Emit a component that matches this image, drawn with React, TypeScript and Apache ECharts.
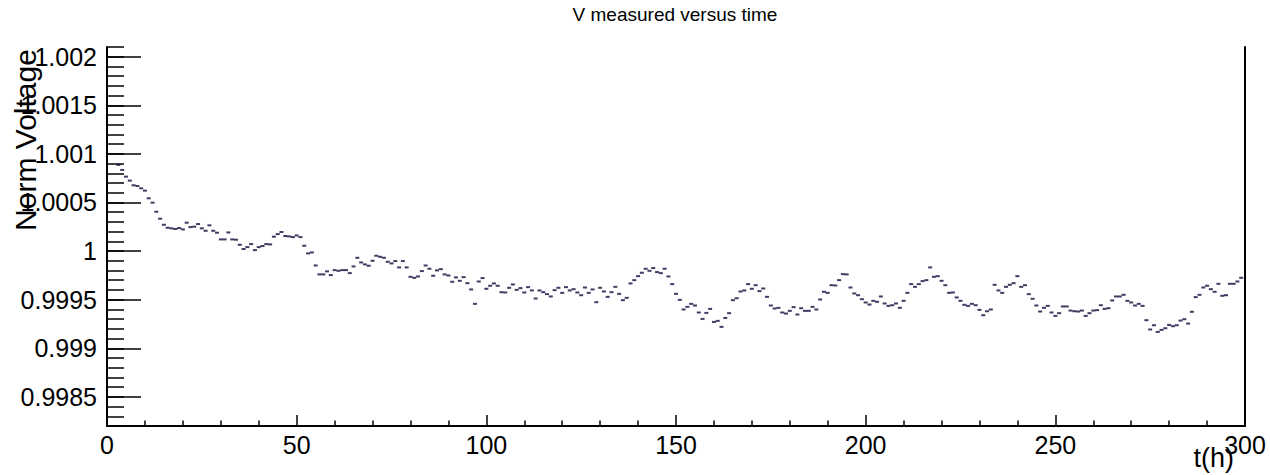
import React, { useEffect, useRef } from "react";
import * as echarts from "echarts";

// ---- data ----
const chartTitle = "V measured versus time";
const xAxisTitle = "t(h)";
const yAxisTitle = "Norm Voltage";

const firstHour = 3; // first measured hour; one point per hour after that
const voltage = [
  1.000887, 1.000835, 1.000766, 1.000725, 1.000677, 1.00067, 1.000646, 1.000622, 1.000543, 1.000498,
  1.000405, 1.000333, 1.000271, 1.00024, 1.000234, 1.000227, 1.000237, 1.000223, 1.000292, 1.000247,
  1.000251, 1.000278, 1.000234, 1.000209, 1.000265, 1.000209, 1.000189, 1.00012, 1.00012, 1.000192,
  1.00012, 1.000117, 1.000065, 1.000021, 1.000041, 1.000072, 1.00001, 1.000041, 1.000052, 1.000072,
  1.000069, 1.000148, 1.000175, 1.000196, 1.000155, 1.000151, 1.000144, 1.000161, 1.000144, 1.000055,
  0.999976, 0.999986, 0.999852, 0.99976, 0.99976, 0.999791, 0.999753, 0.999804, 0.999797, 0.999804,
  0.999804, 0.999773, 0.999842, 0.999931, 0.999883, 0.999863, 0.999849, 0.9999, 0.999952, 0.999941,
  0.999931, 0.99989, 0.999873, 0.999897, 0.999832, 0.999897, 0.999832, 0.999735, 0.999725, 0.999739,
  0.999794, 0.999852, 0.999818, 0.999746, 0.999801, 0.999814, 0.99976, 0.999749, 0.999684, 0.999729,
  0.999694, 0.999732, 0.99967, 0.999605, 0.999457, 0.999687, 0.999722, 0.999612, 0.999643, 0.999667,
  0.999643, 0.999577, 0.999574, 0.999622, 0.999656, 0.999601, 0.999619, 0.999574, 0.999629, 0.999595,
  0.999512, 0.999595, 0.999577, 0.999557, 0.999533, 0.999598, 0.999622, 0.99957, 0.999629, 0.999595,
  0.999608, 0.999574, 0.999546, 0.999625, 0.99957, 0.999605, 0.999474, 0.999622, 0.999584, 0.999529,
  0.999577, 0.999632, 0.99956, 0.999495, 0.999519, 0.999667, 0.999701, 0.999742, 0.999777, 0.999818,
  0.999797, 0.999825, 0.999784, 0.999773, 0.999818, 0.999739, 0.99966, 0.99956, 0.999498, 0.999399,
  0.999426, 0.999457, 0.99944, 0.999368, 0.999302, 0.999364, 0.999405, 0.999271, 0.999282, 0.99922,
  0.999312, 0.999361, 0.999495, 0.999515, 0.999584, 0.999595, 0.99966, 0.999612, 0.999649, 0.999588,
  0.999615, 0.999529, 0.99944, 0.999409, 0.999416, 0.999368, 0.999357, 0.999385, 0.999423, 0.999347,
  0.999412, 0.999385, 0.999385, 0.999426, 0.999399, 0.999502, 0.999581, 0.99957, 0.999649, 0.999646,
  0.999701, 0.999763, 0.99976, 0.999625, 0.999564, 0.999546, 0.999505, 0.999471, 0.99945, 0.999488,
  0.999478, 0.999533, 0.999461, 0.999436, 0.999443, 0.999461, 0.999416, 0.999488, 0.99957, 0.99966,
  0.999632, 0.99966, 0.999691, 0.999701, 0.999832, 0.999735, 0.999742, 0.999694, 0.999649, 0.99957,
  0.999574, 0.999523, 0.999488, 0.999447, 0.999436, 0.999457, 0.999443, 0.999395, 0.99934, 0.999381,
  0.999399, 0.999653, 0.999595, 0.99957, 0.999632, 0.999653, 0.99967, 0.999742, 0.999632, 0.999649,
  0.999557, 0.999509, 0.99944, 0.999378, 0.999416, 0.999436, 0.999368, 0.999333, 0.999361, 0.99943,
  0.99943, 0.999388, 0.999381, 0.999378, 0.999388, 0.999333, 0.999361, 0.999388, 0.999392, 0.999443,
  0.999405, 0.999412, 0.999492, 0.999533, 0.999533, 0.99955, 0.999488, 0.999471, 0.99944, 0.999457,
  0.999436, 0.999289, 0.999193, 0.999237, 0.999168, 0.999189, 0.999206, 0.99924, 0.999227, 0.999237,
  0.999285, 0.999299, 0.999254, 0.999375, 0.999526, 0.99955, 0.999625, 0.999643, 0.999608, 0.999581,
  0.999663, 0.99954, 0.999546, 0.999663, 0.999663, 0.999687, 0.999725,
];

const xMin = 0;
const xMax = 300;
const xMajorStep = 50;
const yMin = 0.9982;
const yMax = 1.0021;
const yMinorStep = 0.0001;
const yMajorTicks = [0.9985, 0.999, 0.9995, 1, 1.0005, 1.001, 1.0015, 1.002];

const FONT = "Liberation Sans, Arial, Helvetica, sans-serif";

export default function App() {
  const ref = useRef<HTMLDivElement>(null);

  useEffect(() => {
    document.body.style.margin = "0";
    if (!ref.current) return;
    const chart = echarts.init(ref.current, null, { renderer: "svg" });

    const points = voltage.map((v, i) => [firstHour + i, v]);

    const option: any = {
      animation: false,
      backgroundColor: "#ffffff",
      grid: { left: 107, right: 25, top: 47, bottom: 49, outerBoundsMode: "none" },
      xAxis: {
        type: "value",
        min: xMin,
        max: xMax,
        interval: xMajorStep,
        axisLine: { show: true, onZero: false, lineStyle: { color: "#000", width: 2 } },
        axisTick: { show: true, inside: true, length: 11, lineStyle: { color: "#000", width: 1.5 } },
        minorTick: { show: true, splitNumber: 5, length: 5.5, lineStyle: { color: "#000", width: 1.5 } },
        axisLabel: { show: true, margin: 6, color: "#000", fontSize: 25, fontFamily: FONT },
        splitLine: { show: false },
      },
      yAxis: [
        {
          // minor ticks every 0.0001
          type: "value",
          position: "left",
          min: yMin,
          max: yMax,
          interval: yMinorStep,
          axisLine: { show: true, onZero: false, lineStyle: { color: "#000", width: 2 } },
          axisTick: { show: true, inside: true, length: 17, lineStyle: { color: "#000", width: 1.5 } },
          axisLabel: { show: false },
          splitLine: { show: false },
        },
        {
          // major ticks and labels
          type: "value",
          position: "left",
          min: yMin,
          max: yMax,
          axisLine: { show: false },
          axisTick: {
            show: true,
            inside: true,
            length: 34,
            customValues: yMajorTicks,
            lineStyle: { color: "#000", width: 1.5 },
          },
          axisLabel: {
            show: true,
            customValues: yMajorTicks,
            margin: 10,
            color: "#000",
            fontSize: 25,
            fontFamily: FONT,
          },
          splitLine: { show: false },
        },
        {
          // right frame line
          type: "value",
          position: "right",
          min: yMin,
          max: yMax,
          axisLine: { show: true, onZero: false, lineStyle: { color: "#000", width: 2 } },
          axisTick: { show: false },
          axisLabel: { show: false },
          splitLine: { show: false },
        },
      ],
      series: [
        {
          type: "scatter",
          xAxisIndex: 0,
          yAxisIndex: 0,
          data: points,
          symbol: "rect",
          symbolSize: [4, 2],
          itemStyle: { color: "#0c0c3c" },
          silent: true,
        },
      ],
      graphic: [
        {
          type: "text",
          x: 675,
          y: 14,
          style: {
            text: chartTitle,
            fontSize: 19,
            fontFamily: FONT,
            fill: "#000",
            textAlign: "center",
            textVerticalAlign: "middle",
          },
          z: 100,
        },
        {
          type: "text",
          x: 25.5,
          y: 140,
          rotation: Math.PI / 2,
          style: {
            text: yAxisTitle,
            fontSize: 30,
            fontFamily: FONT,
            fill: "#000",
            textAlign: "center",
            textVerticalAlign: "middle",
          },
          z: 100,
        },
        {
          type: "text",
          x: 1234,
          y: 458,
          style: {
            text: xAxisTitle,
            fontSize: 27,
            fontFamily: FONT,
            fill: "#000",
            textAlign: "right",
            textVerticalAlign: "middle",
          },
          z: 100,
        },
      ],
    };

    chart.setOption(option);
    return () => chart.dispose();
  }, []);

  return <div ref={ref} style={{ width: 1270, height: 475 }} />;
}
